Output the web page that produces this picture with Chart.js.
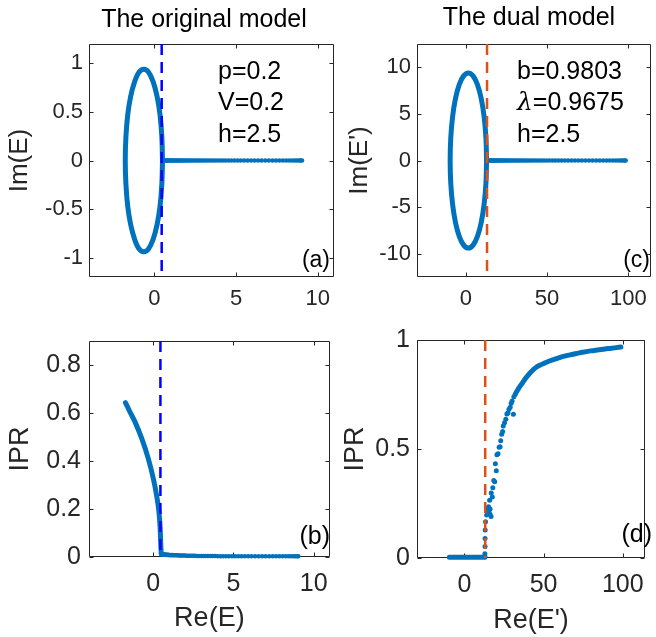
<!DOCTYPE html>
<html>
<head>
<meta charset="utf-8">
<script src="https://cdn.jsdelivr.net/npm/chart.js@4.4.1/dist/chart.umd.min.js"></script>
<style>
	body { margin: 0; background: #fff; }
	#fig { position: relative; width: 656px; height: 637px; }
	canvas { position: absolute; }
</style>
</head>
<body>
<div id="fig">
	<canvas id="panelA" width="340" height="318" style="left:0;top:0"></canvas>
	<canvas id="panelB" width="340" height="319" style="left:0;top:318px"></canvas>
	<canvas id="panelC" width="316" height="318" style="left:340px;top:0"></canvas>
	<canvas id="panelD" width="316" height="319" style="left:340px;top:318px"></canvas>
</div>
<script>
// ---- data ----
// (a) original model spectrum
const reLoopA = [0.50, 0.46, 0.35, 0.17, -0.07, -0.35, -0.64, -0.94, -1.21, -1.45, -1.63, -1.74, -1.78, -1.74, -1.63, -1.45, -1.21, -0.94, -0.64, -0.35, -0.07, 0.17, 0.35, 0.46, 0.50];
const imLoopA = [0, 0.24, 0.47, 0.66, 0.81, 0.91, 0.94, 0.91, 0.81, 0.66, 0.47, 0.24, 0, -0.24, -0.47, -0.66, -0.81, -0.91, -0.94, -0.91, -0.81, -0.66, -0.47, -0.24, 0];
const reTailA = [0.50, 0.55, 0.60, 0.65, 0.70, 0.76, 0.82, 0.88, 0.94, 1.00, 1.07, 1.14, 1.21, 1.28, 1.36, 1.44, 1.52, 1.60, 1.69, 1.78, 1.87, 1.97, 2.07, 2.17, 2.28, 2.39, 2.50, 2.62, 2.74, 2.86, 2.99, 3.12, 3.26, 3.40, 3.55, 3.70, 3.86, 4.02, 4.19, 4.36, 4.54, 4.72, 4.91, 5.10, 5.30, 5.50, 5.71, 5.92, 6.13, 6.35, 6.57, 6.79, 7.01, 7.23, 7.45, 7.66, 7.87, 8.07, 8.26, 8.44, 8.60, 8.74, 8.86, 8.96, 9.04];
const critA = 0.45;

// (b) original model IPR
const reCurveB = [-1.73, -1.45, -1.12, -0.71, -0.31, 0.0, 0.2, 0.35, 0.43, 0.47, 0.5];
const iprCurveB = [0.643, 0.605, 0.561, 0.493, 0.411, 0.329, 0.261, 0.193, 0.124, 0.056, 0.012];
const iprTailB = [0.012, 0.011, 0.011, 0.010, 0.010, 0.010, 0.009, 0.009, 0.009, 0.008, 0.008, 0.008, 0.008, 0.007, 0.007, 0.007, 0.007, 0.006, 0.006, 0.006, 0.006, 0.006, 0.005, 0.005, 0.005, 0.005, 0.005, 0.005, 0.004, 0.004, 0.004, 0.004, 0.004, 0.004, 0.004, 0.004, 0.004, 0.003, 0.003, 0.003, 0.003, 0.003, 0.003, 0.003, 0.003, 0.003, 0.003, 0.003, 0.003, 0.003, 0.003, 0.003, 0.003, 0.003, 0.003, 0.003, 0.003, 0.003, 0.003, 0.003, 0.003, 0.003, 0.003, 0.003, 0.003];

// (c) dual model spectrum
const reLoopC = [12.8, 12.42, 11.30, 9.52, 7.20, 4.50, 1.60, -1.30, -4.00, -6.32, -8.10, -9.22, -9.60, -9.22, -8.10, -6.32, -4.00, -1.30, 1.60, 4.50, 7.20, 9.52, 11.30, 12.42, 12.8];
const imLoopC = [0, 2.43, 4.70, 6.65, 8.14, 9.08, 9.40, 9.08, 8.14, 6.65, 4.70, 2.43, 0, -2.43, -4.70, -6.65, -8.14, -9.08, -9.40, -9.08, -8.14, -6.65, -4.70, -2.43, 0];
const reTailC = [13.0, 13.5, 14.0, 14.5, 15.0, 15.6, 16.2, 16.8, 17.4, 18.0, 18.7, 19.4, 20.1, 20.8, 21.6, 22.4, 23.2, 24.0, 24.9, 25.8, 26.7, 27.7, 28.7, 29.7, 30.8, 31.9, 33.0, 34.2, 35.4, 36.6, 37.9, 39.2, 40.6, 42.0, 43.5, 45.0, 46.6, 48.2, 49.9, 51.6, 53.4, 55.2, 57.1, 59.0, 61.0, 63.0, 65.1, 67.2, 69.3, 71.5, 73.7, 75.9, 78.1, 80.3, 82.5, 84.6, 86.7, 88.7, 90.6, 92.4, 94.0, 95.4, 96.6, 97.6, 98.4];
const critC = 13.1;

// (d) dual model IPR
const reZeroD = [-9.6, 12.9];
const iprZeroD = [0.004, 0.004];
const reRiseD = [12.9, 12.9, 13.0, 13.0, 13.1, 13.3, 14.0, 14.5, 15.2, 14.8, 15.5, 16.2, 16.8, 16.2, 15.9, 16.9, 17.6, 17.9, 18.5, 19.1, 19.5, 20.1, 20.5, 21.2, 21.9, 22.5, 22.9, 23.5, 24.1, 24.5, 25.3, 26.1, 26.8, 27.5, 28.1, 28.9, 29.5, 30.1, 31.2, 30.9, 32.0];
const iprRiseD = [0.006, 0.02, 0.053, 0.09, 0.129, 0.166, 0.197, 0.227, 0.235, 0.215, 0.21, 0.20, 0.19, 0.225, 0.265, 0.298, 0.28, 0.322, 0.356, 0.35, 0.432, 0.40, 0.474, 0.478, 0.508, 0.51, 0.538, 0.568, 0.58, 0.606, 0.62, 0.636, 0.66, 0.666, 0.682, 0.692, 0.71, 0.72, 0.74, 0.659, 0.75];
const reUpperD = [32.5, 34.5, 36.6, 38.5, 40.5, 42.5, 44.6, 47.5, 50.6, 54.5, 58.6, 62.5, 66.7, 70.7, 74.7, 79.7, 84.8, 88.8, 92.8, 95.8, 98.8];
const iprUpperD = [0.757, 0.782, 0.803, 0.823, 0.841, 0.857, 0.871, 0.884, 0.894, 0.906, 0.916, 0.925, 0.932, 0.938, 0.944, 0.950, 0.955, 0.959, 0.962, 0.965, 0.968];

// tick labels
const xTicksA = [0, 5, 10];
const yTicksA = [-1, -0.5, 0, 0.5, 1];
const yTicksB = [0, 0.2, 0.4, 0.6, 0.8];
const xTicksC = [0, 50, 100];
const yTicksC = [-10, -5, 0, 5, 10];
const yTicksD = [0, 0.5, 1];

// ---- styling ----
const FONT = "'Liberation Sans', Arial, Helvetica, sans-serif";
const AXIS_COLOR = "#262626";
const BLUE = "#0072BD";
const TICK_LEN = 4;

const pts = (xs, ys) => xs.map((x, i) => ({ x, y: ys[i] }));
const onAxis = (xs) => xs.map((x) => ({ x, y: 0 }));

// MATLAB style box with inward ticks on all four sides (drawn under the data)
const boxTicks = {
	id: "boxTicks",
	beforeDatasetsDraw(chart) {
		const { ctx, chartArea: a, scales } = chart;
		const L = Math.round(a.left) + 0.5;
		const R = Math.round(a.right) - 0.5;
		const T = Math.round(a.top) + 0.5;
		const B = Math.round(a.bottom) - 0.5;
		ctx.save();
		ctx.strokeStyle = AXIS_COLOR;
		ctx.lineWidth = 1;
		ctx.beginPath();
		ctx.rect(L, T, R - L, B - T);
		scales.x.ticks.forEach((t) => {
			const px = Math.round(scales.x.getPixelForValue(t.value)) + 0.5;
			ctx.moveTo(px, B);
			ctx.lineTo(px, B - TICK_LEN);
			ctx.moveTo(px, T);
			ctx.lineTo(px, T + TICK_LEN);
		});
		scales.y.ticks.forEach((t) => {
			const py = Math.round(scales.y.getPixelForValue(t.value)) + 0.5;
			ctx.moveTo(L, py);
			ctx.lineTo(L + TICK_LEN, py);
			ctx.moveTo(R, py);
			ctx.lineTo(R - TICK_LEN, py);
		});
		ctx.stroke();
		ctx.restore();
	},
};

// titles, parameter notes and panel letters
function textPlugin(items) {
	return {
		id: "panelText",
		afterDraw(chart) {
			const ctx = chart.ctx;
			ctx.save();
			ctx.fillStyle = "#000";
			ctx.textBaseline = "middle";
			items.forEach((it) => {
				let x = it.x;
				ctx.textAlign = it.align || "left";
				if (it.prefix) {
					ctx.font = "italic " + it.size + "px 'DejaVu Serif', serif";
					ctx.fillText(it.prefix, x, it.y);
					x += ctx.measureText(it.prefix).width;
				}
				ctx.font = it.size + "px " + FONT;
				ctx.fillText(it.text, x, it.y);
			});
			ctx.restore();
		},
	};
}

function axis(min, max, ticks, o) {
	return {
		type: "linear",
		min: min,
		max: max,
		grid: { display: false, drawTicks: false },
		border: { display: false },
		ticks: {
			autoSkip: false,
			font: { family: FONT, size: o.tickSize },
			color: AXIS_COLOR,
			padding: o.pad,
			callback: (v) => String(v),
		},
		afterBuildTicks: (scale) => {
			scale.ticks = ticks.map((v) => ({ value: v }));
		},
		afterFit: (scale) => {
			if (scale.isHorizontal()) scale.height = o.size;
			else scale.width = o.size;
		},
		title: o.title
			? {
					display: true,
					text: o.title,
					color: AXIS_COLOR,
					font: { family: FONT, size: o.titleSize, lineHeight: 1 },
					padding: { top: o.titlePad, bottom: o.titlePad },
			  }
			: { display: false },
	};
}

function makePanel(id, datasets, scales, padding, items) {
	const ctx = document.getElementById(id).getContext("2d");
	return new Chart(ctx, {
		type: "scatter",
		data: { datasets },
		options: {
			responsive: false,
			animation: false,
			events: [],
			layout: { padding },
			plugins: { legend: { display: false }, tooltip: { enabled: false } },
			elements: { point: { borderWidth: 0 } },
			scales,
		},
		plugins: [boxTicks, textPlugin(items)],
	});
}

function dashed(x, y0, y1, color) {
	return {
		data: [{ x, y: y1 }, { x, y: y0 }],
		showLine: true,
		borderColor: color,
		borderWidth: 2.5,
		borderDash: [11, 7],
		pointRadius: 0,
	};
}

function curve(data, width, extra) {
	return Object.assign(
		{ data, showLine: true, borderColor: BLUE, borderWidth: width, pointRadius: 0, borderCapStyle: "round", borderJoinStyle: "round", clip: 8 },
		extra || {}
	);
}

function dots(data, r) {
	return { data, showLine: false, pointRadius: r, pointBackgroundColor: BLUE, pointBorderWidth: 0, clip: 8 };
}

// (a)
makePanel(
	"panelA",
	[
		dashed(critA, -1.2, 1.2, "#0000FF"),
		curve(pts(reLoopA, imLoopA), 5, { tension: 0.35 }),
		dots(onAxis(reTailA), 2.3),
	],
	{
		x: axis(-4, 11, xTicksA, { tickSize: 22, pad: 9, size: 41 }),
		y: axis(-1.2, 1.2, yTicksA, { tickSize: 22, pad: 6, size: 89, title: "Im(E)", titleSize: 26, titlePad: 7 }),
	},
	{ top: 44, right: 6, left: 0, bottom: 0 },
	[
		{ text: "The original model", x: 204, y: 20, size: 25, align: "center" },
		{ text: "p=0.2", x: 218, y: 72, size: 25 },
		{ text: "V=0.2", x: 218, y: 103, size: 25 },
		{ text: "h=2.5", x: 218, y: 135, size: 25 },
		{ text: "(a)", x: 330, y: 261, size: 23, align: "right" },
	]
);

// (b)
makePanel(
	"panelB",
	[
		dashed(critA, 0, 0.9, "#0000FF"),
		curve(pts(reCurveB, iprCurveB), 5, { cubicInterpolationMode: "monotone" }),
		dots(pts(reTailA, iprTailB), 2.3),
	],
	{
		x: axis(-4, 11, xTicksA, { tickSize: 25, pad: 12, size: 80, title: "Re(E)", titleSize: 27, titlePad: 5 }),
		y: axis(0, 0.9, yTicksB, { tickSize: 25, pad: 8, size: 89, title: "IPR", titleSize: 27, titlePad: 7 }),
	},
	{ top: 20, right: 6, left: 0, bottom: 0 },
	[{ text: "(b)", x: 330, y: 219, size: 25, align: "right" }]
);

// (c)
makePanel(
	"panelC",
	[
		dashed(critC, -12.5, 12.5, "#D95319"),
		curve(pts(reLoopC, imLoopC), 5, { tension: 0.35 }),
		dots(onAxis(reTailC), 2.3),
	],
	{
		x: axis(-30, 114, xTicksC, { tickSize: 22, pad: 9, size: 41 }),
		y: axis(-12.5, 12.5, yTicksC, { tickSize: 22, pad: 6, size: 77, title: "Im(E')", titleSize: 26, titlePad: 7 }),
	},
	{ top: 44, right: 1, left: 0, bottom: 0 },
	[
		{ text: "The dual model", x: 189, y: 18, size: 25, align: "center" },
		{ text: "b=0.9803", x: 177, y: 72, size: 25 },
		{ prefix: "λ", text: "=0.9675", x: 177, y: 103, size: 25 },
		{ text: "h=2.5", x: 177, y: 135, size: 25 },
		{ text: "(c)", x: 310, y: 261, size: 23, align: "right" },
	]
);

// (d)
makePanel(
	"panelD",
	[
		dashed(critC, 0, 1, "#D95319"),
		curve(pts(reZeroD, iprZeroD), 5),
		dots(pts(reRiseD, iprRiseD), 2.5),
		curve(pts(reUpperD, iprUpperD), 5, { cubicInterpolationMode: "monotone" }),
	],
	{
		x: axis(-30, 114, xTicksC, { tickSize: 25, pad: 12, size: 79, title: "Re(E')", titleSize: 27, titlePad: 3 }),
		y: axis(0, 1, yTicksD, { tickSize: 25, pad: 7, size: 77, title: "IPR", titleSize: 27, titlePad: 2 }),
	},
	{ top: 20, right: 1, left: 0, bottom: 0 },
	[{ text: "(d)", x: 312, y: 217, size: 25, align: "right" }]
);
</script>
</body>
</html>
